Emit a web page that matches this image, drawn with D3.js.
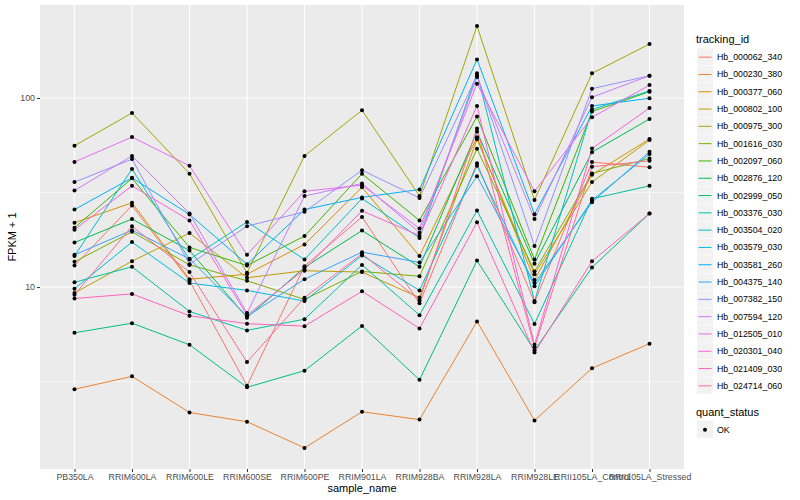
<!DOCTYPE html>
<html>
<head>
<meta charset="utf-8">
<script src="https://cdn.jsdelivr.net/npm/d3@7"></script>
<style>
  body { margin: 0; background: #fff; }
  text { font-family: "Liberation Sans", Arial, sans-serif; }
</style>
</head>
<body>
<svg id="canvas" width="800" height="500"></svg>
<script>
// samples on the x axis
let samples = ["PB350LA", "RRIM600LA", "RRIM600LE", "RRIM600SE", "RRIM600PE", "RRIM901LA",
  "RRIM928BA", "RRIM928LA", "RRIM928LE", "RRII105LA_Control", "RRII105LA_Stressed"];

let trackingIds = ["Hb_000062_340", "Hb_000230_380", "Hb_000377_060", "Hb_000802_100", "Hb_000975_300",
  "Hb_001616_030", "Hb_002097_060", "Hb_002876_120", "Hb_002999_050", "Hb_003376_030",
  "Hb_003504_020", "Hb_003579_030", "Hb_003581_260", "Hb_004375_140", "Hb_007382_150",
  "Hb_007594_120", "Hb_012505_010", "Hb_020301_040", "Hb_021409_030", "Hb_024714_060"];

// FPKM + 1, one row per tracking id, same order as samples
let fpkm = [
  [13.0, 27.0, 10.8, 3.01, 12.9, 23.5, 8.2, 45.1, 8.3, 45.8, 43.0],
  [2.88, 3.37, 2.17, 1.94, 1.41, 2.19, 1.99, 6.58, 1.97, 3.72, 5.02],
  [21.9, 27.9, 11.0, 11.7, 16.8, 33.7, 14.6, 61.9, 10.9, 39.3, 60.7],
  [9.3, 13.7, 19.3, 11.2, 12.2, 12.0, 8.8, 60.5, 11.7, 35.9, 59.9],
  [55.9, 83.3, 39.8, 11.9, 49.4, 86.1, 30.3, 240, 28.9, 135, 193],
  [13.6, 19.6, 13.1, 10.8, 8.6, 12.1, 11.4, 53.9, 12.1, 39.9, 47.8],
  [20.6, 37.6, 16.2, 13.0, 18.6, 39.7, 22.5, 79.7, 14.0, 84.8, 108],
  [17.2, 22.9, 15.6, 6.89, 12.7, 19.9, 12.8, 66.4, 13.3, 51.7, 77.4],
  [5.73, 6.44, 4.95, 2.95, 3.61, 6.23, 3.23, 13.8, 4.62, 12.7, 24.5],
  [10.6, 12.8, 7.43, 5.90, 6.76, 13.1, 7.1, 25.4, 6.38, 29.3, 34.3],
  [14.6, 42.1, 14.0, 22.1, 14.0, 29.4, 18.2, 135, 8.43, 86.9, 109],
  [9.8, 17.3, 10.5, 9.6, 8.43, 14.7, 9.6, 43.8, 10.1, 28.8, 50.5],
  [25.7, 37.8, 24.2, 13.2, 25.7, 29.8, 32.8, 160, 24.3, 90.7, 99.7],
  [14.8, 20.0, 14.1, 7.0, 11.0, 15.3, 13.5, 38.6, 10.5, 28.1, 51.9],
  [35.9, 47.5, 13.2, 21.0, 25.0, 41.5, 29.6, 132, 16.5, 112, 131],
  [32.4, 49.4, 24.5, 7.28, 30.3, 35.3, 19.4, 129, 22.9, 101, 131],
  [45.9, 62.1, 43.8, 14.8, 32.1, 34.6, 20.4, 119, 32.1, 79.0, 117],
  [20.1, 34.3, 22.5, 7.1, 12.4, 25.3, 18.7, 90.7, 4.95, 54.0, 88.5],
  [8.7, 9.2, 7.05, 6.4, 6.21, 9.5, 6.04, 22.0, 4.5, 13.7, 24.5],
  [9.1, 21.0, 12.0, 4.01, 8.79, 15.0, 8.5, 68.9, 4.80, 43.3, 46.5]
];

let quantStatus = ["OK"];
let yTicks = [10, 100];
let yMinor = [Math.pow(10, 0.5), Math.pow(10, 1.5), Math.pow(10, 2.5)];

// ggplot hue palette, 20 levels
let hueColors = ["#F8766D", "#EA8331", "#D89000", "#C09B00", "#A3A500", "#7CAE00", "#39B600", "#00BB4E",
  "#00BF7D", "#00C1A3", "#00BFC4", "#00BAE0", "#00B0F6", "#35A2FF", "#9590FF", "#C77CFF",
  "#E76BF3", "#FA62DB", "#FF62BC", "#FF6C91"];

let panel = { left: 40, right: 684, top: 5, bottom: 469 };
let svg = d3.select("#canvas");

let allVals = fpkm.flat();
let lo = Math.log10(d3.min(allVals)), hi = Math.log10(d3.max(allVals));
let pad = (hi - lo) * 0.05;

let xScale = d3.scalePoint().domain(samples).range([panel.left, panel.right]).padding(0.6);
let yScale = d3.scaleLog().domain([Math.pow(10, lo - pad), Math.pow(10, hi + pad)]).range([panel.bottom, panel.top]);
let colorScale = d3.scaleOrdinal().domain(trackingIds).range(hueColors);

// panel background + grid
svg.append("rect")
  .attr("x", panel.left).attr("y", panel.top)
  .attr("width", panel.right - panel.left).attr("height", panel.bottom - panel.top)
  .attr("fill", "#EBEBEB");

let [dLo, dHi] = yScale.domain();
svg.selectAll(".minor")
  .data(yMinor.filter(v => v > dLo && v < dHi))
  .enter().append("line")
  .attr("x1", panel.left).attr("x2", panel.right)
  .attr("y1", d => yScale(d)).attr("y2", d => yScale(d))
  .attr("stroke", "#fff").attr("stroke-width", 0.55);

svg.selectAll(".majorY")
  .data(yTicks)
  .enter().append("line")
  .attr("x1", panel.left).attr("x2", panel.right)
  .attr("y1", d => yScale(d)).attr("y2", d => yScale(d))
  .attr("stroke", "#fff").attr("stroke-width", 1.1);

svg.selectAll(".majorX")
  .data(samples)
  .enter().append("line")
  .attr("x1", d => xScale(d)).attr("x2", d => xScale(d))
  .attr("y1", panel.top).attr("y2", panel.bottom)
  .attr("stroke", "#fff").attr("stroke-width", 1.1);

// lines
let rows = trackingIds.map((id, i) => ({ id: id, values: fpkm[i].map((v, j) => ({ sample: samples[j], value: v })) }));
let lineGen = d3.line().x(d => xScale(d.sample)).y(d => yScale(d.value));

svg.selectAll(".series")
  .data(rows)
  .enter().append("path")
  .attr("d", d => lineGen(d.values))
  .attr("fill", "none")
  .attr("stroke", d => colorScale(d.id))
  .attr("stroke-width", 1);

// points
svg.selectAll(".pt")
  .data(rows.flatMap(r => r.values))
  .enter().append("circle")
  .attr("cx", d => xScale(d.sample))
  .attr("cy", d => yScale(d.value))
  .attr("r", 2)
  .attr("fill", "#000");

// axes
let xAxis = svg.append("g")
  .attr("transform", "translate(0," + panel.bottom + ")")
  .call(d3.axisBottom(xScale).tickSize(3).tickPadding(2));
let yAxis = svg.append("g")
  .attr("transform", "translate(" + panel.left + ",0)")
  .call(d3.axisLeft(yScale).tickValues(yTicks).tickFormat(d3.format("d")).tickSize(3).tickPadding(2));

[xAxis, yAxis].forEach(a => {
  a.select(".domain").remove();
  a.selectAll(".tick line").attr("stroke", "#333").attr("stroke-width", 1);
  a.selectAll(".tick text").attr("fill", "#4D4D4D").style("font-size", "8.8px")
    .style("font-family", "'Liberation Sans', Arial, sans-serif");
});

svg.append("text")
  .attr("x", (panel.left + panel.right) / 2).attr("y", 492)
  .attr("text-anchor", "middle").style("font-size", "11px")
  .text("sample_name");

svg.append("text")
  .attr("transform", "translate(16," + (panel.top + panel.bottom) / 2 + ") rotate(-90)")
  .attr("text-anchor", "middle").style("font-size", "11px")
  .text("FPKM + 1");

// legend: tracking_id
let legX = 697, keyH = 17.3, keyW = 16, firstKey = 48.5;
svg.append("text").attr("x", legX - 1).attr("y", 43).style("font-size", "11px").text("tracking_id");

let keys = svg.selectAll(".key")
  .data(trackingIds)
  .enter().append("g")
  .attr("transform", (d, i) => "translate(" + legX + "," + (firstKey + i * keyH) + ")");
keys.append("rect").attr("width", keyW).attr("height", keyH - 0.6).attr("fill", "#F2F2F2");
keys.append("line")
  .attr("x1", 1.5).attr("x2", keyW - 1.5)
  .attr("y1", keyH / 2).attr("y2", keyH / 2)
  .attr("stroke", d => colorScale(d)).attr("stroke-width", 1);
keys.append("text")
  .attr("x", keyW + 4).attr("y", keyH / 2 + 3)
  .style("font-size", "8.8px")
  .text(d => d);

// legend: quant_status
svg.append("text").attr("x", legX - 1).attr("y", 416).style("font-size", "11px").text("quant_status");
let qk = svg.selectAll(".qkey")
  .data(quantStatus)
  .enter().append("g")
  .attr("transform", "translate(" + legX + ",421)");
qk.append("rect").attr("width", keyW).attr("height", keyH - 0.6).attr("fill", "#F2F2F2");
qk.append("circle").attr("cx", keyW / 2).attr("cy", keyH / 2).attr("r", 2).attr("fill", "#000");
qk.append("text").attr("x", keyW + 4).attr("y", keyH / 2 + 3).style("font-size", "8.8px").text(d => d);
</script>
</body>
</html>
